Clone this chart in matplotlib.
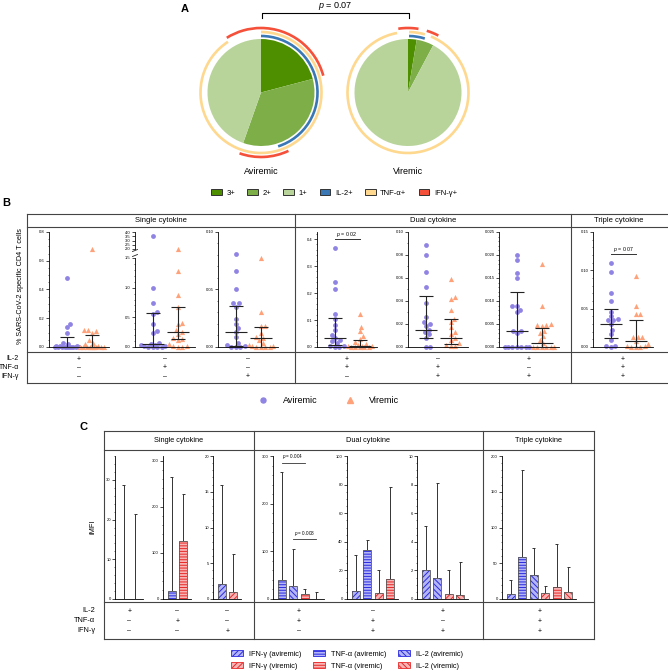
import numpy as np
import matplotlib.pyplot as plt
from matplotlib.patches import Arc, Patch
from matplotlib.lines import Line2D
from matplotlib.ticker import AutoMinorLocator, FormatStrFormatter

plt.rcParams['font.family'] = ['Liberation Sans', 'DejaVu Sans']
plt.rcParams['mathtext.fontset'] = 'custom'
plt.rcParams['mathtext.rm'] = 'Liberation Sans'
plt.rcParams['mathtext.it'] = 'Liberation Sans:italic'
plt.rcParams['hatch.linewidth'] = 0.7

# ---------------- data, panel A ----------------
pie_groups = ['Aviremic', 'Viremic']
pie_labels = ['3+', '2+', '1+']
pie_aviremic = [20.9, 34.5, 44.6]
pie_viremic = [2.6, 5.2, 92.2]
ring_labels = ['IL-2+', 'TNF-α+', 'IFN-γ+']
# arcs as (start, end) fraction of the circle, clockwise from 12 o'clock
il2_arcs_av = [(0.0, 0.451)]
tnf_arcs_av = [(0.0, 0.908)]
ifn_arcs_av = [(0.0, 0.208), (0.43, 0.554), (0.911, 1.0)]
il2_arcs_vir = [(0.003, 0.048)]
tnf_arcs_vir = [(0.003, 0.045), (0.062, 0.971)]
ifn_arcs_vir = [(0.976, 1.0), (0.0, 0.026), (0.047, 0.078)]

# ---------------- data, panel B ----------------
b_groups = ['Aviremic', 'Viremic']
b_av = [
    [0.48, 0.16, 0.14, 0.10, 0.03, 0.02, 0.01, 0.01, 0.005, 0, 0, 0, 0, 0, 0, 0, 0, 0, 0],
    [3.55, 1.0, 0.74, 0.59, 0.55, 0.385, 0.27, 0.235, 0.06, 0.05, 0.04, 0.03, 0.02, 0.01, 0.005, 0, 0, 0],
    [0.081, 0.066, 0.050, 0.038, 0.038, 0.035, 0.024, 0.020, 0.0165, 0.013, 0.009, 0.0035, 0.002, 0.001, 0, 0, 0],
    [0.368, 0.242, 0.215, 0.122, 0.105, 0.082, 0.064, 0.046, 0.033, 0.027, 0.021, 0.015, 0.005, 0.002, 0, 0],
    [0.089, 0.080, 0.065, 0.052, 0.038, 0.026, 0.022, 0.020, 0.0185, 0.015, 0.013, 0.011, 0.008, 0, 0],
    [0.020, 0.019, 0.016, 0.015, 0.009, 0.009, 0.0081, 0.0075, 0.0035, 0.0035, 0.003, 0, 0, 0, 0, 0, 0, 0],
    [0.110, 0.098, 0.071, 0.060, 0.046, 0.040, 0.036, 0.035, 0.035, 0.030, 0.0226, 0.017, 0.0096, 0.0017, 0.0017, 0],
]
b_vir = [
    [0.68, 0.12, 0.12, 0.11, 0.10, 0.05, 0.03, 0.02, 0.01, 0, 0, 0, 0, 0, 0, 0, 0, 0],
    [2.0, 1.28, 0.88, 0.67, 0.40, 0.38, 0.29, 0.25, 0.22, 0.15, 0.13, 0.12, 0.05, 0.02, 0.01, 0, 0],
    [0.077, 0.030, 0.0185, 0.018, 0.012, 0.009, 0.008, 0.006, 0.0035, 0.002, 0.001, 0.0005, 0, 0, 0, 0],
    [0.123, 0.074, 0.058, 0.042, 0.030, 0.020, 0.012, 0.008, 0.005, 0.004, 0.002, 0.001, 0, 0, 0, 0],
    [0.059, 0.0435, 0.042, 0.032, 0.024, 0.0215, 0.017, 0.013, 0.011, 0.008, 0.006, 0.0035, 0.002, 0.001, 0.0005],
    [0.018, 0.009, 0.005, 0.0047, 0.0047, 0.0045, 0.0035, 0.003, 0.0023, 0.0016, 0.0009, 0, 0, 0, 0, 0, 0],
    [0.093, 0.054, 0.043, 0.043, 0.0126, 0.0126, 0.0126, 0.0074, 0.0043, 0.0017, 0.001, 0, 0, 0],
]
b_med_av = [0.0, 0.05, 0.013, 0.033, 0.0145, 0.0035, 0.030]
b_q1_av = [0.0, 0.0, 0.001, 0.008, 0.008, 0.0, 0.0117]
b_q3_av = [0.07, 0.57, 0.036, 0.108, 0.0446, 0.012, 0.0496]
b_med_vir = [0.0, 0.25, 0.008, 0.005, 0.0078, 0.0009, 0.0074]
b_q1_vir = [0.0, 0.13, 0.0, 0.0, 0.0026, 0.0, 0.0]
b_q3_vir = [0.08, 0.67, 0.017, 0.027, 0.0246, 0.0041, 0.0357]
b_pvalues = [None, None, None, '0.02', None, None, '0.07']

# ---------------- data, panel C ----------------
c_bars = [
    ['IL-2 av', 'IL-2 vir'],
    ['TNF-α av', 'TNF-α vir'],
    ['IFN-γ av', 'IFN-γ vir'],
    ['TNF-α av', 'IL-2 av', 'TNF-α vir', 'IL-2 vir'],
    ['IFN-γ av', 'TNF-α av', 'IFN-γ vir', 'TNF-α vir'],
    ['IFN-γ av', 'IL-2 av', 'IFN-γ vir', 'IL-2 vir'],
    ['IFN-γ av', 'TNF-α av', 'IL-2 av', 'IFN-γ vir', 'TNF-α vir', 'IL-2 vir'],
]
c_heights = [[0, 0], [17, 126], [2.1, 1.0], [40, 28, 10, 1], [5.5, 34.5, 4, 14.3],
             [2.05, 1.5, 0.35, 0.3], [7.6, 59, 33, 8.8, 16.5, 9.8]]
c_errors = [[28.7, 21.5], [265, 228], [15.9, 6.3], [267, 105, 20, 15], [31, 41, 20, 78],
            [5.1, 8.1, 2.0, 2.6], [26, 180, 71, 18, 77, 45]]

sections = ['Single cytokine', 'Dual cytokine', 'Triple cytokine']
row_names = ['IL-2', 'TNF-α', 'IFN-γ']
sign_il2 = ['+', '–', '–', '+', '–', '+', '+']
sign_tnf = ['–', '+', '–', '+', '+', '–', '+']
sign_ifn = ['–', '–', '+', '–', '+', '+', '+']

# ---------------- figure ----------------
W, H = 668, 671
fig = plt.figure(figsize=(W / 100, H / 100), dpi=100)


def px_axes(x0, y0, x1, y1):
    ax = fig.add_axes([x0 / W, 1 - y1 / H, (x1 - x0) / W, (y1 - y0) / H])
    ax.set_facecolor('none')
    return ax


ov = px_axes(0, 0, W, H)
ov.set_xlim(0, W)
ov.set_ylim(H, 0)
ov.axis('off')

line_col = '#444444'


def hline(y, x0, x1, lw=0.8):
    ov.plot([x0, x1], [y, y], color=line_col, lw=lw)


def vline(x, y0, y1, lw=0.8):
    ov.plot([x, x], [y0, y1], color=line_col, lw=lw)


def style_axes(ax, ticks, fmt, minor):
    for s in ['top', 'right']:
        ax.spines[s].set_visible(False)
    ax.spines['left'].set_linewidth(0.6)
    ax.spines['bottom'].set_linewidth(0.6)
    ax.set_xticks([])
    ax.set_yticks(ticks)
    ax.yaxis.set_major_formatter(FormatStrFormatter(fmt))
    if minor:
        ax.yaxis.set_minor_locator(AutoMinorLocator(minor))
    ax.tick_params(axis='y', which='major', length=2, width=0.5, labelsize=3, pad=1)
    ax.tick_params(axis='y', which='minor', length=1, width=0.4)


# ---------------- panel A ----------------
pie_colors = ['#4E8F00', '#7DAE47', '#B8D49B']
ring_colors = ['#3A78B5', '#FDD88E', '#F5503A']
ring_radius = [56.5, 60.5, 64.5]


def draw_pie(cx, cy, values, arcs, label):
    ax = px_axes(cx - 75, cy - 75, cx + 75, cy + 75)
    ax.pie(values, colors=pie_colors, startangle=90, counterclock=False, radius=53.5,
           wedgeprops=dict(linewidth=0))
    for radius, color, spans in zip(ring_radius, ring_colors, arcs):
        for start, end in spans:
            ax.add_patch(Arc((0, 0), 2 * radius, 2 * radius, theta1=90 - 360 * end,
                             theta2=90 - 360 * start, color=color, lw=1.9))
    ax.set_xlim(-75, 75)
    ax.set_ylim(-75, 75)
    ax.set_aspect('equal')
    ax.axis('off')
    ov.text(cx, 171, label, ha='center', va='center', fontsize=6.5)


draw_pie(261, 92.5, pie_aviremic, [il2_arcs_av, tnf_arcs_av, ifn_arcs_av], pie_groups[0])
draw_pie(408, 92.5, pie_viremic, [il2_arcs_vir, tnf_arcs_vir, ifn_arcs_vir], pie_groups[1])

ov.text(185, 9, 'A', fontsize=8, fontweight='bold', ha='center', va='center')
ov.plot([262, 262, 409, 409], [18, 13, 13, 18], color='black', lw=0.8)
ov.text(335.5, 6, '$p$ = 0.07', fontsize=6.5, ha='center', va='center')

a_handles = [Patch(facecolor=c, edgecolor='#333333', lw=0.7) for c in pie_colors + ring_colors]
fig.legend(a_handles, pie_labels + ring_labels, ncol=6, loc='center',
           bbox_to_anchor=(334 / W, 1 - 193 / H), fontsize=5.5, frameon=False,
           handlelength=1.4, handleheight=0.9, handletextpad=0.6, columnspacing=1.6)

# ---------------- panel B ----------------
bx0, bx1, by0, by_head, by_tab, by1 = 27, 667, 214, 227, 352, 383
b_div = [295, 571]
hline(by0, bx0, bx1)
hline(by_head, bx0, bx1)
hline(by_tab, bx0, bx1)
hline(by1, bx0, bx1)
for x in [bx0] + b_div:
    vline(x, by0, by1)
b_sec_mid = [(bx0 + b_div[0]) / 2, (b_div[0] + b_div[1]) / 2, (b_div[1] + bx1) / 2]
for xm, name in zip(b_sec_mid, sections):
    ov.text(xm, 221, name, ha='center', va='center', fontsize=5.5)
ov.text(6, 203, 'B', fontsize=8, fontweight='bold', ha='center', va='center')
ov.text(21, 286, '% SARS-CoV-2 specific CD4 T cells', rotation=90, ha='center',
        va='center', fontsize=5.2)

b_left = [49, 135, 218, 317, 408, 499, 593]
b_width = 60
b_xlim = (-0.7, 1.7)
b_top = [232, 258, 232, 232, 232, 232, 232]
b_bottom = 347
b_ytop = [0.8, 1.5, 0.10, 0.426, 0.10, 0.025, 0.15]
b_step = [0.2, 0.5, 0.05, 0.1, 0.02, 0.005, 0.05]
b_minor = [4, 5, 5, 5, 2, 5, 5]
b_fmt = ['%.1f', '%.1f', '%.2f', '%.1f', '%.2f', '%.3f', '%.2f']
av_col = '#8F83E3'
vir_col = '#FFA27A'
px_per_x = b_width / (b_xlim[1] - b_xlim[0])


def swarm_offsets(vals, ppu, dia=4.4, half=12):
    cands = np.arange(-half, half + 0.01, 0.5)
    cands = cands[np.argsort(np.abs(cands) - 1e-3 * cands)]
    placed = []
    offs = np.zeros(len(vals))
    for i in np.argsort(vals, kind='stable'):
        y = vals[i] * ppu
        best, best_d = 0.0, -1.0
        for c in cands:
            d = min([np.hypot(c - px, y - py) for px, py in placed], default=99)
            if d >= dia:
                best = c
                break
            if d > best_d:
                best, best_d = c, d
        offs[i] = best
        placed.append((best, y))
    return offs / px_per_x


def scatter_group(ax, vals, x0, ppu, marker, color):
    vals = np.asarray(vals, dtype=float)
    if len(vals) == 0:
        return
    xs = x0 + swarm_offsets(vals, ppu)
    ax.scatter(xs, vals, s=12 if marker == 'o' else 14, marker=marker, color=color,
               linewidths=0, clip_on=False, zorder=2)


def iqr_bar(ax, x0, med, q1, q3):
    kw = dict(color='#222222', lw=0.8, zorder=3, clip_on=False)
    ax.vlines(x0, q1, q3, **kw)
    ax.hlines(med, x0 - 0.44, x0 + 0.44, **kw)
    ax.hlines([q1, q3], x0 - 0.28, x0 + 0.28, **kw)


for i in range(7):
    left = b_left[i]
    ax = px_axes(left, b_top[i], left + b_width, b_bottom)
    ax.set_xlim(*b_xlim)
    ax.set_ylim(0, b_ytop[i])
    ticks = np.arange(0, b_ytop[i] + b_step[i] * 0.5, b_step[i])
    style_axes(ax, ticks, b_fmt[i], b_minor[i])
    ppu = (b_bottom - b_top[i]) / b_ytop[i]
    av = [v for v in b_av[i] if v <= b_ytop[i]]
    vir = [v for v in b_vir[i] if v <= b_ytop[i]]
    scatter_group(ax, av, 0, ppu, 'o', av_col)
    scatter_group(ax, vir, 1, ppu, '^', vir_col)
    iqr_bar(ax, 0, b_med_av[i], b_q1_av[i], b_q3_av[i])
    iqr_bar(ax, 1, b_med_vir[i], b_q1_vir[i], b_q3_vir[i])
    if b_pvalues[i]:
        yp = 0.94 * ax.get_ylim()[1] if i == 3 else 0.81 * b_ytop[i]
        ax.plot([0, 1], [yp, yp], color='#333333', lw=0.7)
        ax.text(0.5, yp, '$p$ = ' + b_pvalues[i], ha='center', va='bottom', fontsize=3.8)
    if i == 1:
        top = px_axes(left, 232, left + b_width, 249)
        top.set_xlim(*b_xlim)
        top.set_ylim(2.0, 4.0)
        style_axes(top, [2.0, 2.5, 3.0, 3.5, 4.0], '%.1f', 0)
        top.spines['bottom'].set_visible(False)
        scatter_group(top, [v for v in b_av[i] if v > b_ytop[i]], 0, 8.5, 'o', av_col)
        scatter_group(top, [v for v in b_vir[i] if v > b_ytop[i]], 1, 8.5, '^', vir_col)
        ov.plot([left - 2.5, left + 2.5], [251.5, 249.5], color='#222222', lw=0.6)
        ov.plot([left - 2.5, left + 2.5], [256.5, 254.5], color='#222222', lw=0.6)

b_centers = [l + (0.5 - b_xlim[0]) * px_per_x for l in b_left]
for row, (name, signs) in enumerate(zip(row_names, [sign_il2, sign_tnf, sign_ifn])):
    y = 359 + row * 8.7
    ov.text(19, y, name, ha='right', va='center', fontsize=5)
    for xc, s in zip(b_centers, signs):
        ov.text(xc, y, s, ha='center', va='center', fontsize=5)

b_handles = [Line2D([], [], marker='o', color=av_col, ls='none', markersize=3.6),
             Line2D([], [], marker='^', color=vir_col, ls='none', markersize=4)]
fig.legend(b_handles, b_groups, ncol=2, loc='center', bbox_to_anchor=(327 / W, 1 - 401 / H),
           fontsize=6.5, frameon=False, handletextpad=1.2, columnspacing=2.5)

# ---------------- panel C ----------------
cx0, cx1, cy0, cy_head, cy_tab, cy1 = 104, 594, 431, 450, 602, 639
c_div = [254, 483]
hline(cy0, cx0, cx1)
hline(cy_head, cx0, cx1)
hline(cy_tab, cx0, cx1)
hline(cy1, cx0, cx1)
for x in [cx0] + c_div + [cx1]:
    vline(x, cy0, cy1)
c_sec_mid = [(cx0 + c_div[0]) / 2, (c_div[0] + c_div[1]) / 2, (c_div[1] + cx1) / 2]
for xm, name in zip(c_sec_mid, sections):
    ov.text(xm, 441, name, ha='center', va='center', fontsize=5.3)
ov.text(83, 427, 'C', fontsize=8, fontweight='bold', ha='center', va='center')
ov.text(93, 527, 'iMFI', rotation=90, ha='center', va='center', fontsize=5.3)

c_left = [115, 163, 213, 273, 347, 417, 502]
c_step = 11.5
c_top, c_bottom = 456, 599
c_ytop = [36, 310, 20, 300, 100, 10, 200]
c_tick = [10, 100, 5, 100, 20, 2, 50]
c_minor = [5, 5, 5, 5, 4, 4, 5]
hatch_of = {'IFN-γ': '//////', 'TNF-α': '------', 'IL-2': '\\\\\\\\\\\\'}
face_of = {'av': '#B4B4F8', 'vir': '#F8B4B4'}
hcol_of = {'av': '#2A2AE0', 'vir': '#E82828'}

c_centers = []
for i in range(7):
    n = len(c_heights[i])
    left = c_left[i]
    width = (n - 1 + 1.45) * c_step
    ax = px_axes(left, c_top, left + width, c_bottom)
    ax.set_xlim(-0.75, n - 1 + 0.7)
    ax.set_ylim(0, c_ytop[i])
    style_axes(ax, np.arange(0, c_ytop[i] + 0.01, c_tick[i]), '%d', c_minor[i])
    for k, lab in enumerate(c_bars[i]):
        cyto, status = lab.split(' ')
        h = c_heights[i][k]
        ax.bar(k, h, width=0.68, color=face_of[status], edgecolor=hcol_of[status],
               hatch=hatch_of[cyto], lw=0, zorder=2)
        ax.bar(k, h, width=0.68, fill=False, edgecolor='#555555', lw=0.6, zorder=3)
    x = np.arange(n)
    ax.vlines(x, c_heights[i], c_errors[i], color='#333333', lw=0.7, zorder=1)
    ax.hlines(c_errors[i], x - 0.13, x + 0.13, color='#333333', lw=0.7, zorder=1)
    if i == 3:
        for a, b, p, yp in [(0, 2, '0.004', 285), (1, 3, '0.008', 125)]:
            ax.plot([a, b], [yp, yp], color='#333333', lw=0.6)
            ax.text((a + b) / 2, yp + 4, '$p$ = ' + p, ha='center', va='bottom', fontsize=3.3)
    c_centers.append(left + (0.75 + (n - 1) / 2) * c_step)

for row, (name, signs) in enumerate(zip(row_names, [sign_il2, sign_tnf, sign_ifn])):
    y = 611 + row * 10
    ov.text(95, y, name, ha='right', va='center', fontsize=5.3)
    for xc, s in zip(c_centers, signs):
        ov.text(xc, y, s, ha='center', va='center', fontsize=5)

c_leg_labels = ['IFN-γ (aviremic)', 'IFN-γ (viremic)', 'TNF-α (aviremic)', 'TNF-α (viremic)',
                'IL-2 (aviremic)', 'IL-2 (viremic)']
c_handles = []
for lab in c_leg_labels:
    cyto, status = lab.split(' ')
    status = 'av' if 'aviremic' in status else 'vir'
    c_handles.append(Patch(facecolor=face_of[status], edgecolor=hcol_of[status],
                           hatch=hatch_of[cyto], lw=0.6))
fig.legend(c_handles, c_leg_labels, ncol=3, loc='center', bbox_to_anchor=(347 / W, 1 - 660 / H),
           fontsize=5.3, frameon=False, handlelength=1.6, handleheight=0.9,
           handletextpad=0.8, columnspacing=1.6, labelspacing=0.55)

fig.savefig('out.png', dpi=100)
